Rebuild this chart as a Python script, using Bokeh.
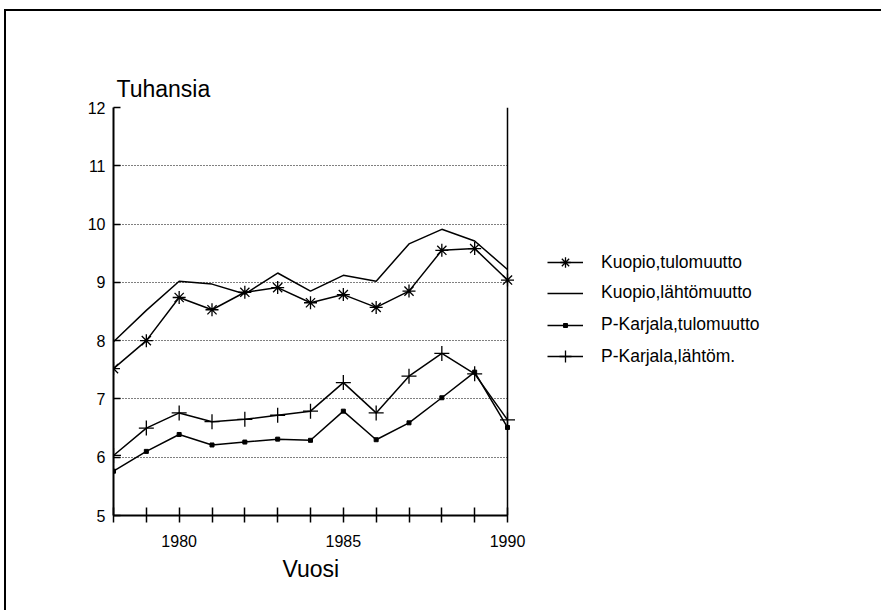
from bokeh.plotting import figure
from bokeh.models import (FixedTicker, Range1d, Legend, LegendItem, Title, Grid, Span, BoxAnnotation)
from bokeh.embed import file_html
from bokeh.resources import INLINE

years = list(range(1978, 1991))
kuopio_tulo = [7.52, 8.00, 8.74, 8.53, 8.83, 8.91, 8.65, 8.79, 8.57, 8.85, 9.55, 9.58, 9.04]
kuopio_lahto = [7.98, 8.52, 9.02, 8.97, 8.80, 9.16, 8.85, 9.12, 9.02, 9.66, 9.91, 9.71, 9.22]
pk_tulo = [5.76, 6.10, 6.39, 6.21, 6.26, 6.31, 6.29, 6.79, 6.30, 6.59, 7.02, 7.46, 6.51]
pk_lahto = [6.03, 6.50, 6.76, 6.61, 6.65, 6.72, 6.79, 7.28, 6.76, 7.39, 7.78, 7.43, 6.64]

labels = ["Kuopio,tulomuutto", "Kuopio,lähtömuutto", "P-Karjala,tulomuutto", "P-Karjala,lähtöm."]
y_ticks = [5, 6, 7, 8, 9, 10, 11, 12]
x_labelled = [1980, 1985, 1990]

FONT = "Liberation Sans"

# layout (pixels): chart box 113..507 (x) on the page, frame extended right to hold the legend
W, H = 880, 604
frame_left, frame_right = 107, 859          # canvas px
box_right = 501                              # canvas px where 1990 sits
frame_top, frame_bottom = 96, 504
px_per_year = (box_right - frame_left) / (years[-1] - years[0])
x_end = years[-1] + (frame_right - box_right) / px_per_year

p = figure(width=W, height=H, output_backend="svg", toolbar_location=None,
           x_range=Range1d(years[0], x_end), y_range=Range1d(5, 12),
           min_border_left=frame_left, min_border_right=W - frame_right,
           min_border_top=frame_top, min_border_bottom=H - frame_bottom)
p.styles = {"box-shadow": "-2px -2px 0px 0px #000000",
            "margin-left": "6px", "margin-top": "11px"}
p.outline_line_color = None
p.background_fill_color = "white"
p.border_fill_color = "white"

# axes
p.xaxis.ticker = FixedTicker(ticks=years)
p.xaxis.bounds = (years[0], years[-1])
p.xaxis.major_label_overrides = {y: ("" if y not in x_labelled else str(y)) for y in years}
p.xaxis.major_tick_in = 8
p.xaxis.major_tick_out = 7
p.xaxis.minor_tick_line_color = None
p.xaxis.major_label_standoff = 12

p.yaxis.ticker = FixedTicker(ticks=y_ticks)
p.yaxis.major_tick_in = 7
p.yaxis.major_tick_out = 0
p.yaxis.minor_tick_line_color = None
p.yaxis.major_label_standoff = 8

for ax in (p.xaxis, p.yaxis):
    ax.axis_line_color = "black"
    ax.axis_line_width = 2
    ax.major_tick_line_color = "black"
    ax.major_tick_line_width = 1.5
    ax.major_label_text_font = FONT
    ax.major_label_text_font_size = "16px"
    ax.major_label_text_color = "black"

p.xgrid.grid_line_color = None
p.ygrid.ticker = FixedTicker(ticks=y_ticks[1:-1])
p.ygrid.grid_line_color = "black"
p.ygrid.grid_line_dash = "1 2"
p.ygrid.grid_line_width = 1

# box top edge, then a white mask right of 1990 that hides grid lines there
p.add_layout(Grid(dimension=1, ticker=FixedTicker(ticks=[y_ticks[-1]]),
                  grid_line_color="black", grid_line_width=1.5))
p.add_layout(BoxAnnotation(left=years[-1] + 0.03, fill_color="white", fill_alpha=1.0,
                           line_color=None, level="underlay"))
p.add_layout(Span(location=years[-1], dimension="height", line_color="black", line_width=1.5))

LW = 1.5
l1 = p.line(years, kuopio_tulo, line_color="black", line_width=LW)
m1 = p.scatter(years, kuopio_tulo, marker="asterisk", size=13, line_color="black", line_width=1.3)
l2 = p.line(years, kuopio_lahto, line_color="black", line_width=LW)
l3 = p.line(years, pk_tulo, line_color="black", line_width=LW)
m3 = p.scatter(years, pk_tulo, marker="square", size=4, line_color="black", fill_color="black")
l4 = p.line(years, pk_lahto, line_color="black", line_width=LW)
m4 = p.scatter(years, pk_lahto, marker="cross", size=15, line_color="black", line_width=1.3)

# one legend per entry so each entry's marker can have its own size
entries = [
    (labels[0], [l1, m1], 26, 262),
    (labels[1], [l2], 20, 293),
    (labels[2], [l3, m3], 10, 325),
    (labels[3], [l4, m4], 30, 356),
]
page_frame_bottom = 515
for text, rends, gh, cy in entries:
    h = max(gh, 20)
    lg = Legend(items=[LegendItem(label=text, renderers=rends)],
                location=(434, page_frame_bottom - (cy + h / 2)),
                padding=0, margin=0, spacing=0,
                glyph_height=gh, glyph_width=36, label_height=20, label_standoff=18,
                label_text_font=FONT, label_text_font_size="17.5px", label_text_color="black",
                border_line_color=None, background_fill_alpha=0)
    p.add_layout(lg, "center")

p.add_layout(Title(text="Tuhansia", align="left", offset=3, standoff=11,
                   text_font=FONT, text_font_size="23px", text_font_style="normal",
                   text_color="black"), "above")
# "Vuosi" centred under the chart box (1978..1990), not under the extended frame
p.add_layout(Title(text="Vuosi", align="left", offset=169, standoff=8,
                   text_font=FONT, text_font_size="23px", text_font_style="normal",
                   text_color="black"), "below")

open("out.html", "w").write(file_html(p, INLINE))
